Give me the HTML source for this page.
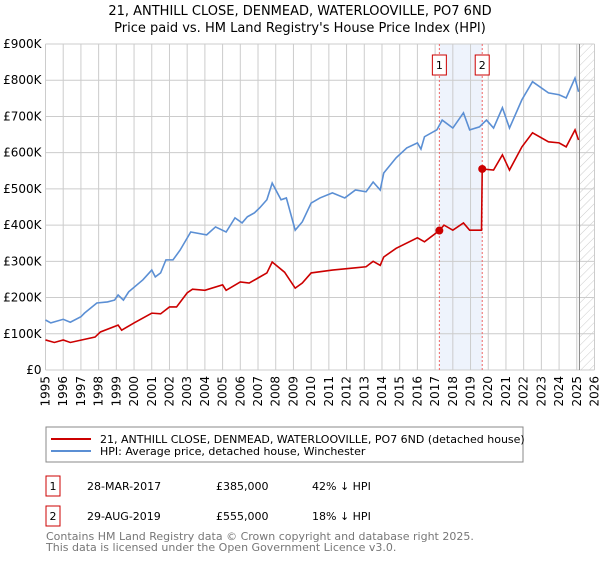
<!DOCTYPE html>
<html><head><meta charset="utf-8"><style>
body{margin:0;background:#fff;width:600px;height:560px;overflow:hidden;font-family:"DejaVu Sans","Liberation Sans",sans-serif;}
svg text{font-family:"DejaVu Sans","Liberation Sans",sans-serif;}
</style></head><body>
<svg id="c" width="600" height="560" xmlns="http://www.w3.org/2000/svg">
<defs><pattern id="hatch" width="6" height="6" patternUnits="userSpaceOnUse" patternTransform="rotate(45)"><line x1="0" y1="0" x2="0" y2="6" stroke="#ccc" stroke-width="1"/></pattern></defs>
<text x="300" y="15" text-anchor="middle" font-size="13">21, ANTHILL CLOSE, DENMEAD, WATERLOOVILLE, PO7 6ND</text>
<text x="300" y="32" text-anchor="middle" font-size="13">Price paid vs. HM Land Registry's House Price Index (HPI)</text>
<g id="grid"></g><g id="marks"></g><g id="axes"></g>
<rect x="46" y="427" width="477" height="35" fill="#fff" stroke="#888"/>
<line x1="51" y1="439" x2="91" y2="439" stroke="#cc0000" stroke-width="2"/>
<text x="100" y="443" font-size="11">21, ANTHILL CLOSE, DENMEAD, WATERLOOVILLE, PO7 6ND (detached house)</text>
<line x1="51" y1="451" x2="91" y2="451" stroke="#5b8fd4" stroke-width="2"/>
<text x="100" y="455" font-size="11">HPI: Average price, detached house, Winchester</text>
<rect x="46" y="476" width="14" height="20" fill="#fff" stroke="#cc0000"/>
<text x="53" y="490" text-anchor="middle" font-size="11">1</text>
<text x="87" y="490" font-size="11">28-MAR-2017</text>
<text x="216" y="490" font-size="11">£385,000</text>
<text x="312" y="490" font-size="11">42% ↓ HPI</text>
<rect x="46" y="506" width="14" height="20" fill="#fff" stroke="#cc0000"/>
<text x="53" y="520" text-anchor="middle" font-size="11">2</text>
<text x="87" y="520" font-size="11">29-AUG-2019</text>
<text x="216" y="520" font-size="11">£555,000</text>
<text x="312" y="520" font-size="11">18% ↓ HPI</text>
<text x="46" y="540" font-size="11" fill="#777">Contains HM Land Registry data © Crown copyright and database right 2025.</text>
<text x="46" y="551" font-size="11" fill="#777">This data is licensed under the Open Government Licence v3.0.</text>
</svg>
<script>
const hpiYears=[1995,1995.3,1996,1996.4,1997,1997.2,1997.9,1998.5,1998.9,1999.1,1999.4,1999.7,2000.5,2001,2001.2,2001.5,2001.8,2002.2,2002.6,2003.2,2004.1,2004.6,2005.2,2005.7,2006.1,2006.4,2006.8,2007.1,2007.5,2007.8,2008.3,2008.6,2009.1,2009.5,2010,2010.5,2011.2,2011.9,2012.5,2013.1,2013.5,2013.9,2014.1,2014.8,2015.4,2016,2016.2,2016.4,2017.1,2017.4,2018,2018.6,2018.95,2019.5,2019.9,2020.3,2020.8,2021.2,2021.9,2022.5,2023.4,2024,2024.4,2024.9,2025.1];
const hpiValues=[138,130,140,132,147,157,185,188,193,207,193,216,249,276,257,268,304,304,331,381,373,395,381,420,406,423,434,448,470,516,470,475,386,409,461,475,489,475,497,492,519,497,544,586,613,627,610,644,663,690,668,710,663,671,690,668,724,668,746,796,765,760,751,806,768];
const ppYears=[1995,1995.5,1996,1996.4,1997.8,1998.1,1999.1,1999.3,2000,2001,2001.5,2002,2002.4,2003,2003.3,2004,2005,2005.2,2006,2006.5,2007,2007.5,2007.8,2008.5,2009.1,2009.5,2010,2011.2,2012.5,2013.1,2013.5,2013.9,2014.1,2014.8,2016,2016.4,2017.24,2017.5,2018,2018.6,2018.95,2019.62,2019.66,2020.3,2020.8,2021.2,2021.9,2022.5,2023.4,2024,2024.4,2024.9,2025.1];
const ppValues=[83,76,83,76,91,105,124,110,130,157,155,174,174,213,223,220,235,220,243,240,254,268,298,270,226,240,268,276,282,285,300,289,312,336,365,354,385,400,386,406,386,386,555,552,594,552,616,655,630,627,616,663,635];
const saleYears=[2017.24,2019.66];
const saleValues=[385,555];
const saleLabels=["1","2"];
const yTicks=[0,100,200,300,400,500,600,700,800,900];
const yTickLabels=["£0","£100K","£200K","£300K","£400K","£500K","£600K","£700K","£800K","£900K"];
const xTicks=[1995,1996,1997,1998,1999,2000,2001,2002,2003,2004,2005,2006,2007,2008,2009,2010,2011,2012,2013,2014,2015,2016,2017,2018,2019,2020,2021,2022,2023,2024,2025,2026];
const NS="http://www.w3.org/2000/svg";
const X0=45.5,X1=594.5,Y0=370,Y1=44;
const xs=y=>X0+(y-1995)/(2026-1995)*(X1-X0);
const ys=v=>Y0-v/900*(Y0-Y1);
function mk(tag,attrs,parent){const e=document.createElementNS(NS,tag);for(const k in attrs)e.setAttribute(k,attrs[k]);parent.appendChild(e);return e;}
const grid=document.getElementById('grid'),marks=document.getElementById('marks'),axes=document.getElementById('axes');
let r=mk('rect',{x:xs(saleYears[0]),y:Y1,width:xs(saleYears[1])-xs(saleYears[0]),height:Y0-Y1,fill:'#eef3fc'},grid);


let h=mk('rect',{x:xs(2025.15),y:Y1,width:X1-xs(2025.15),height:Y0-Y1,fill:'url(#hatch)'},grid);


yTicks.forEach((t,i)=>{
 let l=mk('line',{x1:X0,x2:X1,y1:ys(t),y2:ys(t),stroke:'#ccc'},grid);
 
 
 let tx=mk('text',{x:X0-4,y:ys(t)+4,'text-anchor':'end','font-size':12},axes);
 tx.textContent=yTickLabels[i];
 
 
});
xTicks.forEach(t=>{
 let l=mk('line',{x1:xs(t),x2:xs(t),y1:Y1,y2:Y0,stroke:'#ccc'},grid);
 
 
 let tx=mk('text',{x:0,y:0,'text-anchor':'end','font-size':12,transform:`translate(${xs(t)+4},376) rotate(-90)`},axes);
 tx.textContent=t;
 
 
});
let b=mk('line',{x1:xs(2025.15),x2:xs(2025.15),y1:Y1,y2:Y0,stroke:'#888','stroke-width':1},grid);


saleYears.forEach((s,i)=>{
 let l=mk('line',{x1:xs(s),x2:xs(s),y1:Y1,y2:Y0,stroke:'#e66','stroke-dasharray':'2,2'},grid);
 
 
 let bx=mk('rect',{x:xs(s)-7,y:55,width:14,height:20,fill:'#fff',stroke:'#cc0000'},axes);
 
 
 let tx=mk('text',{x:xs(s),y:69,'text-anchor':'middle','font-size':11},axes);
 tx.textContent=saleLabels[i];
 
 
});
let hp=mk('polyline',{points:hpiYears.map((y,i)=>xs(y)+','+ys(hpiValues[i])).join(' '),fill:'none',stroke:'#5b8fd4','stroke-width':1.6},marks);


let pp=mk('polyline',{points:ppYears.map((y,i)=>xs(y)+','+ys(ppValues[i])).join(' '),fill:'none',stroke:'#cc0000','stroke-width':1.6},marks);


saleYears.forEach((s,i)=>{
 let c=mk('circle',{cx:xs(s),cy:ys(saleValues[i]),r:4,fill:'#cc0000'},marks);
 
 
});
</script>
</body></html>
